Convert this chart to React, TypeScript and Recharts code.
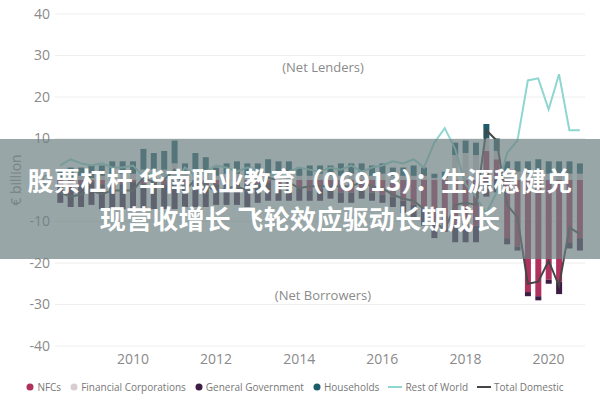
import React from 'react';
import { ComposedChart, Bar, Line, XAxis, YAxis, CartesianGrid, Legend } from 'recharts';

const quarters = [
  '2008Q2','2008Q3','2008Q4',
  '2009Q1','2009Q2','2009Q3','2009Q4',
  '2010Q1','2010Q2','2010Q3','2010Q4',
  '2011Q1','2011Q2','2011Q3','2011Q4',
  '2012Q1','2012Q2','2012Q3','2012Q4',
  '2013Q1','2013Q2','2013Q3','2013Q4',
  '2014Q1','2014Q2','2014Q3','2014Q4',
  '2015Q1','2015Q2','2015Q3','2015Q4',
  '2016Q1','2016Q2','2016Q3','2016Q4',
  '2017Q1','2017Q2','2017Q3','2017Q4',
  '2018Q1','2018Q2','2018Q3','2018Q4',
  '2019Q1','2019Q2','2019Q3','2019Q4',
  '2020Q1','2020Q2','2020Q3','2020Q4',
];

const xTickLabels = ['2010Q1', '2012Q1', '2014Q1', '2016Q1', '2018Q1', '2020Q1'];
const yTicks = [-40, -30, -20, -10, 0, 10, 20, 30, 40];

const nfcs = [
  -1, -1.5, -1, -0.5, -1, -0.5, -1, -0.5, -1, -0.5, -1, -0.5, -1, -0.5, -1, -1,
  -0.5, -1, -1, -1, -0.5, -1, -1.5, -2, -2.5, -2, -2.5, -3, -3, -2.5, -3, -3.5,
  -4, -5, -6, -7, -10, -8.5, -11, -11, -11, 7, 5, -14, -16, -27, -28, -24,
  -24.5, -15, -14,
];
const financialCorps = [
  0.5, 0.5, 1, 0.5, 1, 1.5, 1.5, 1.5, 2.5, 2.5, 2.5, 4, 1.5, 2.5, 2, 1,
  1.5, 1.5, 1, 1.5, 1.5, 1.5, 1.5, 1, 1, 1.5, 1, 1, 1.5, 1, 1, 1.5,
  1, 1, 1, 1, 0.5, 0.5, 6, 6.5, 6, 3, 2, 2, 2, 1.5, 2, 1.5,
  1.5, 1.5, 1.5,
];
const generalGov = [
  -4.5, -5, -5.5, -5.5, -6, -6.5, -6, -6.5, -6, -6.5, -6, -6.5, -5.5, -6, -5.5, -5,
  -5.5, -5, -5.5, -4.5, -4.5, -4, -3.5, -3, -2.5, -3, -2, -2.5, -2.5, -2, -2, -2,
  -2.5, -3, -3.5, -4, -4, -4, -4, -4, -4, -4, -3, -1.5, -1, -1, -1, -1,
  -3, -1.5, -3,
];
const households = [
  2, 2.5, 2, 3, 2.5, 3, 3, 3, 5, 4, 4.5, 5.5, 2.5, 4, 3.5, 2,
  2.5, 3, 3, 2.5, 3.5, 3, 3, 2, 2.5, 2, 2.5, 3, 2.5, 3, 2.5, 2.5,
  2, 2, 2.5, 2, 1, 1.5, 3, 3, 3, 3.5, 3, 2.5, 2.5, 3, 3, 3,
  3, 3, 2.5,
];
const restOfWorld = [
  3.5, 5, 4, 3.5, 4, 3, 3, 3.5, 1, 2, 1.5, -1, 3, 1, 2, 3.5,
  3, 2, 3, 2.5, 1, 1.5, 2, 3, 2.5, 2, 3, 2.5, 3.5, 2, 3, 3.5,
  4.5, 4, 5, 3, 9, 12.5, 7.5, -1, -4, -8, -3, 6.5, 9.5, 24, 24.5, 17,
  25.5, 12, 12,
];
const totalDomestic = [
  -3, -4, -3.5, -2.5, -3.5, -2.5, -2.5, -2.5, 0.5, -0.5, 0, 2.5, -2.5, 0, -1, -3,
  -2, -1.5, -2.5, -1.5, 0.5, 0, -0.5, -2, -1.5, -1.5, -1.5, -1.5, -1.5, -0.5, -1.5, -2,
  -3.5, -4.5, -5, -7, -10, -12, -6, -5.5, -6, 12, 9.5, -6, -9, -25, -24.5, -19.5,
  -25.5, -11.5, -13,
];

const legendItems = [
  { name: 'NFCs', color: '#b0305e', kind: 'dot' },
  { name: 'Financial Corporations', color: '#d9cdd1', kind: 'dot' },
  { name: 'General Government', color: '#3d1d44', kind: 'dot' },
  { name: 'Households', color: '#1d5d69', kind: 'dot' },
  { name: 'Rest of World', color: '#8fd6d0', kind: 'line' },
  { name: 'Total Domestic', color: '#454545', kind: 'line' },
];

const data = quarters.map((q, i) => ({
  q,
  nfcs: nfcs[i],
  fin: financialCorps[i],
  gg: generalGov[i],
  hh: households[i],
  row: restOfWorld[i],
  td: totalDomestic[i],
}));

const FONT = '"Open Sans", "Noto Sans", sans-serif';

const renderLegend = () => (
  <div style={{ display: 'flex', justifyContent: 'center', alignItems: 'center', fontSize: 10, color: '#777', fontFamily: FONT, paddingLeft: 14 }}>
    {legendItems.map((it) => (
      <span key={it.name} style={{ display: 'inline-flex', alignItems: 'center', marginRight: 9 }}>
        <svg width={it.kind === 'dot' ? 8 : 14} height={8} style={{ marginRight: 3 }}>
          {it.kind === 'dot' ? (
            <circle cx={4} cy={4} r={3.5} fill={it.color} />
          ) : (
            <line x1={0} y1={4} x2={14} y2={4} stroke={it.color} strokeWidth={2} />
          )}
        </svg>
        {it.name}
      </span>
    ))}
  </div>
);

export default function App() {
  return (
    <div style={{ position: 'absolute', left: 0, top: 0, width: 600, height: 400, background: '#fff', fontFamily: FONT, overflow: 'hidden' }}>
      <ComposedChart
        width={600}
        height={400}
        data={data}
        stackOffset="sign"
        barCategoryGap="22%"
        margin={{ top: 14, right: 15, left: 0, bottom: 6 }}
      >
        <CartesianGrid vertical={false} stroke="#eeeeee" />
        <XAxis
          dataKey="q"
          axisLine={false}
          tickLine={false}
          interval={0}
          height={34}
          tick={{ fill: '#8a8a8a', fontSize: 14, fontFamily: FONT }}
          tickFormatter={(v: string) => (xTickLabels.includes(v) ? v.slice(0, 4) : '')}
        />
        <YAxis
          domain={[-40, 40]}
          ticks={yTicks}
          axisLine={false}
          tickLine={false}
          width={55}
          tickSize={3}
          tick={{ fill: '#8a8a8a', fontSize: 14, fontFamily: FONT }}
          label={{ value: '€ billion', angle: -90, position: 'insideLeft', offset: 16, style: { fill: '#8a8a8a', fontSize: 14, fontFamily: FONT, textAnchor: 'middle' } }}
        />
        <Bar dataKey="nfcs" name="NFCs" stackId="a" fill="#b0305e" isAnimationActive={false} />
        <Bar dataKey="fin" name="Financial Corporations" stackId="a" fill="#d9cdd1" isAnimationActive={false} />
        <Bar dataKey="gg" name="General Government" stackId="a" fill="#3d1d44" isAnimationActive={false} />
        <Bar dataKey="hh" name="Households" stackId="a" fill="#1d5d69" isAnimationActive={false} />
        <Line dataKey="row" name="Rest of World" stroke="#8fd6d0" strokeWidth={2} dot={false} isAnimationActive={false} />
        <Line dataKey="td" name="Total Domestic" stroke="#454545" strokeWidth={2} dot={false} isAnimationActive={false} />
        <Legend verticalAlign="bottom" content={renderLegend} />
      </ComposedChart>
      <div style={{ position: 'absolute', left: 0, width: 600, top: 58, textAlign: 'center', paddingLeft: 46, boxSizing: 'border-box', fontSize: 13, color: '#8a8a8a' }}>(Net Lenders)</div>
      <div style={{ position: 'absolute', left: 0, width: 600, top: 286, textAlign: 'center', paddingLeft: 46, boxSizing: 'border-box', fontSize: 13, color: '#8a8a8a' }}>(Net Borrowers)</div>
      <div
        style={{
          position: 'absolute',
          left: 0,
          top: 139,
          width: 600,
          height: 120,
          background: 'rgba(110,128,130,0.7)',
          display: 'flex',
          flexDirection: 'column',
          justifyContent: 'center',
          alignItems: 'center',
          color: '#fff',
          fontFamily: '"Noto Sans CJK SC", sans-serif',
          fontWeight: 700,
          fontSize: 26,
          lineHeight: '38px',
          letterSpacing: '0.3px',
          textAlign: 'center',
        }}
      >
        <div>股票杠杆 华南职业教育（06913）：生源稳健兑</div>
        <div>现营收增长 飞轮效应驱动长期成长</div>
      </div>
    </div>
  );
}
